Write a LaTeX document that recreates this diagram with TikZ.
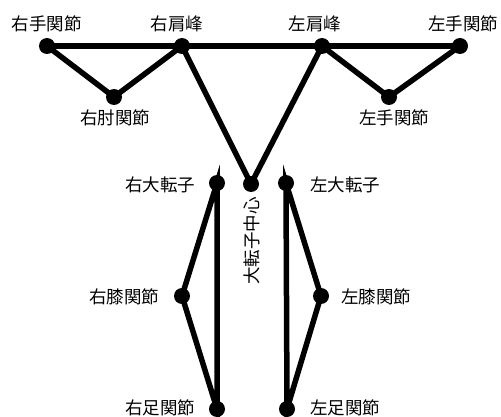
\documentclass[tikz,border=0pt]{standalone}
\usepackage{fontspec}
\newfontfamily\cjk{Noto Sans CJK JP}
\begin{document}
\begin{tikzpicture}[x=1pt,y=-1pt,
  joint/.style={circle,fill=black,inner sep=0pt,minimum size=16pt},
  bone/.style={line width=5.5pt,line cap=round},
  lbl/.style={font=\cjk\fontsize{17.5}{20}\selectfont,inner sep=0pt}]
\useasboundingbox (0,0) rectangle (501,417);
\node[joint] (rw) at (47,46) {};
\node[joint] (rs) at (182,46) {};
\node[joint] (ls) at (322,46) {};
\node[joint] (lw) at (460,46) {};
\node[joint] (re) at (114,97) {};
\node[joint] (le) at (389,97) {};
\node[joint] (hc) at (251,184) {};
\node[joint] (rh) at (217,183) {};
\node[joint] (lh) at (286,183) {};
\node[joint] (rk) at (182,296) {};
\node[joint] (lk) at (321,296) {};
\node[joint] (ra) at (217,409) {};
\node[joint] (la) at (287,409) {};
\draw[bone] (rw.center) -- (lw.center);
\draw[bone] (rw.center) -- (re.center) -- (rs.center);
\draw[bone] (ls.center) -- (le.center) -- (lw.center);
\draw[bone] (rs.center) -- (hc.center) -- (ls.center);
\draw[bone] (rh.center) -- (rk.center) -- (ra.center) -- cycle;
\draw[bone] (lh.center) -- (lk.center) -- (la.center) -- cycle;
\node[lbl] (trw) at (47,24) {右手関節};
\node[lbl] (trs) at (177,24) {右肩峰};
\node[lbl] (tls) at (315,24) {左肩峰};
\node[lbl] (tlw) at (463,24) {左手関節};
\node[lbl] (tre) at (115,118) {右肘関節};
\node[lbl] (tle) at (394,118) {左手関節};
\node[lbl] (trh) at (160,185) {右大転子};
\node[lbl] (tlh) at (345,185) {左大転子};
\node[lbl] (trk) at (124,297) {右膝関節};
\node[lbl] (tlk) at (376,297) {左膝関節};
\node[lbl] (tra) at (160,408) {右足関節};
\node[lbl] (tla) at (345,408) {左足関節};
\node[lbl,rotate=90] (thc) at (252,241) {大転子中心};
\end{tikzpicture}
\end{document}
